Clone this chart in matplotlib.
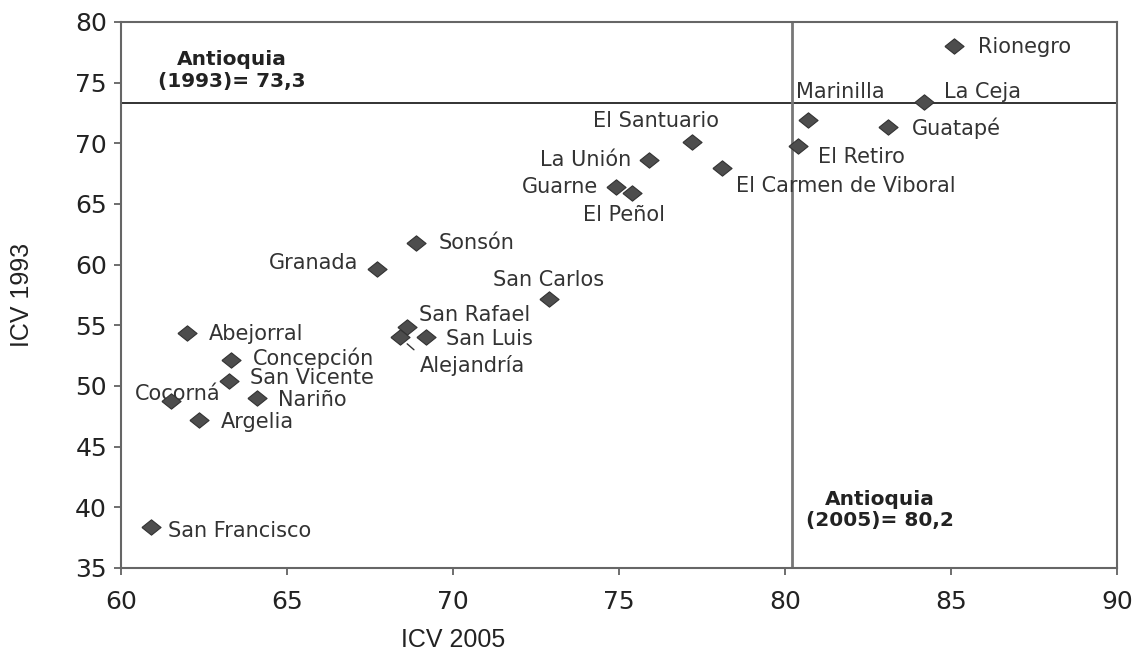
import matplotlib.pyplot as plt

# datos: ICV 2005 (x) vs ICV 1993 (y) por municipio
municipios = ['Rionegro', 'La Ceja', 'Marinilla', 'Guatapé', 'El Retiro',
              'El Santuario', 'La Unión', 'El Carmen de Viboral', 'Guarne',
              'El Peñol', 'Sonsón', 'Granada', 'San Carlos', 'San Rafael',
              'Alejandría', 'San Luis', 'Abejorral', 'Concepción',
              'San Vicente', 'Cocorná', 'Nariño', 'Argelia', 'San Francisco']
icv_2005 = [85.1, 84.2, 80.7, 83.1, 80.4, 77.2, 75.9, 78.1, 74.9, 75.4, 68.9,
            67.7, 72.9, 68.6, 68.4, 69.2, 62.0, 63.3, 63.25, 61.5, 64.1,
            62.35, 60.9]
icv_1993 = [78.0, 73.4, 71.9, 71.3, 69.8, 70.1, 68.6, 68.0, 66.4, 65.9, 61.8,
            59.6, 57.2, 54.9, 54.0, 54.0, 54.4, 52.1, 50.4, 48.8, 49.0, 47.2,
            38.4]

antioquia_1993 = 73.3
antioquia_2005 = 80.2

x_ticks = [60, 65, 70, 75, 80, 85, 90]
y_ticks = [35, 40, 45, 50, 55, 60, 65, 70, 75, 80]

# desplazamiento de etiquetas (pixeles) y alineacion
offsets = {
    'Rionegro': (24, -1, 'left'), 'La Ceja': (20, 10, 'left'),
    'Marinilla': (-12, 28, 'left'), 'Guatapé': (24, -1, 'left'),
    'El Retiro': (20, -11, 'left'), 'El Santuario': (27, 21, 'right'),
    'La Unión': (-18, 0, 'right'), 'El Carmen de Viboral': (14, -18, 'left'),
    'Guarne': (-18, 0, 'right'), 'El Peñol': (-49, -22, 'left'),
    'Sonsón': (22, 0, 'left'), 'Granada': (-18, 6, 'right'),
    'San Carlos': (-56, 19, 'left'), 'San Rafael': (12, 12, 'left'),
    'Alejandría': (20, -28, 'left'), 'San Luis': (20, -2, 'left'),
    'Abejorral': (21, -1, 'left'), 'Concepción': (22, 2, 'left'),
    'San Vicente': (21, 3, 'left'), 'Cocorná': (-36, 7, 'left'),
    'Nariño': (21, -2, 'left'), 'Argelia': (22, -2, 'left'),
    'San Francisco': (17, -4, 'left'),
}

fig = plt.figure(figsize=(11.37, 6.54), dpi=100)
ax = fig.add_axes([0.1064, 0.1315, 0.876, 0.835])

# lineas de referencia Antioquia
ax.axhline(antioquia_1993, color='#222222', lw=1.3, zorder=1)
ax.axvline(antioquia_2005, color='#777777', lw=2.0, zorder=1)

diamond = [(-1, 0), (0, 0.8), (1, 0), (0, -0.8), (-1, 0)]
ax.scatter(icv_2005, icv_1993, marker=diamond, s=190, color='#4d4d4d',
           edgecolors='#333333', linewidths=0.8, zorder=3)

for name, x, y in zip(municipios, icv_2005, icv_1993):
    dx, dy, ha = offsets[name]
    if name == 'Alejandría':
        ax.annotate(name, (x, y), xytext=(dx, dy), textcoords='offset pixels',
                    ha=ha, va='center', fontsize=15, color='#333333',
                    arrowprops=dict(arrowstyle='-', color='#333333', lw=1,
                                    relpos=(0, 1), shrinkA=3, shrinkB=7))
    else:
        ax.annotate(name, (x, y), xytext=(dx, dy), textcoords='offset pixels',
                    ha=ha, va='center', fontsize=15, color='#333333',
                    zorder=2)

ax.text(63.35, 76.0, 'Antioquia\n(1993)= 73,3', ha='center', va='center',
        fontsize=14.5, fontweight='bold', color='#222222', linespacing=1.15)
ax.text(82.85, 39.8, 'Antioquia\n(2005)= 80,2', ha='center', va='center',
        fontsize=14.5, fontweight='bold', color='#222222', linespacing=1.15)

ax.set_xlim(60, 90)
ax.set_ylim(35, 80)
ax.set_xticks(x_ticks)
ax.set_yticks(y_ticks)

for s in ax.spines.values():
    s.set_color('#666666')
    s.set_linewidth(1.5)

ax.tick_params(axis='both', direction='out', length=5, width=1.2,
               color='#555555', labelsize=18, labelcolor='#222222')
ax.tick_params(axis='x', pad=11)
ax.tick_params(axis='y', pad=5)

ax.set_xlabel('ICV 2005', fontsize=18, family='Liberation Sans',
              color='#222222')
ax.set_ylabel('ICV 1993', fontsize=18, family='Liberation Sans',
              color='#222222')
ax.xaxis.set_label_coords(0.333, -0.132)
ax.yaxis.set_label_coords(-0.0994, 0.5)
ax.xaxis.label.set_va('center')
ax.yaxis.label.set_va('center')

plt.savefig('out.png', dpi=100)
